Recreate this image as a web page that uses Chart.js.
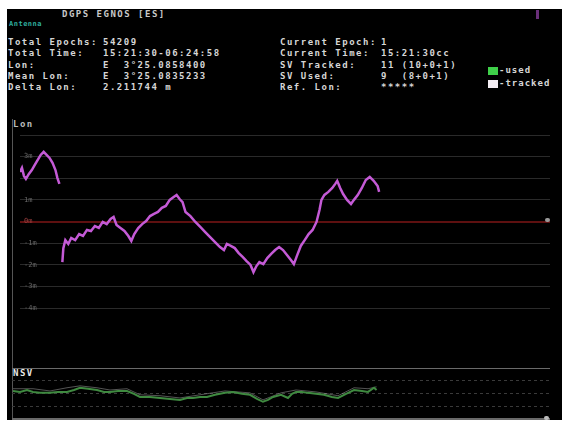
<!DOCTYPE html>
<html>
<head>
<meta charset="utf-8">
<script src="https://cdn.jsdelivr.net/npm/chart.js@4/dist/chart.umd.min.js"></script>
<style>
  html, body { margin: 0; padding: 0; background: #fff; }
  body { width: 562px; height: 423px; position: relative; overflow: hidden; }
  #screen { position: absolute; left: 7px; top: 9px; width: 555px; height: 411px; background: #000; }
  canvas { position: absolute; left: 0; top: 0; }
  .t { position: absolute; font-family: "DejaVu Sans Mono", monospace; font-weight: bold;
       font-size: 9px; line-height: 11px; letter-spacing: 1.5px; color: #d6d6d6; white-space: pre; }
  .sq { position: absolute; width: 10px; height: 8px; }
  .ln { position: absolute; background: #555; }
  .dot { position: absolute; width: 5px; height: 4px; border-radius: 2px; background: #9a9a9a; }
</style>
</head>
<body>
<div id="screen"></div>

<div class="t" style="left:9px;top:19px;color:#2fae9e;font-size:7px;letter-spacing:0.5px">Antenna</div>
<div class="t" style="left:62px;top:9px;color:#c8c8c8">DGPS EGNOS [ES]</div>
<div class="ln" style="left:536px;top:10px;width:3px;height:9px;background:#6a2f7a"></div>

<div class="t" style="left:8px;top:37px">Total Epochs:</div>
<div class="t" style="left:8px;top:48px">Total Time:</div>
<div class="t" style="left:8px;top:60px">Lon:</div>
<div class="t" style="left:8px;top:71px">Mean Lon:</div>
<div class="t" style="left:8px;top:82px">Delta Lon:</div>
<div class="t" style="left:103px;top:37px">54209</div>
<div class="t" style="left:103px;top:48px">15:21:30-06:24:58</div>
<div class="t" style="left:103px;top:60px">E  3°25.0858400</div>
<div class="t" style="left:103px;top:71px">E  3°25.0835233</div>
<div class="t" style="left:103px;top:82px">2.211744 m</div>

<div class="t" style="left:280px;top:37px">Current Epoch:</div>
<div class="t" style="left:280px;top:48px">Current Time:</div>
<div class="t" style="left:280px;top:60px">SV Tracked:</div>
<div class="t" style="left:280px;top:71px">SV Used:</div>
<div class="t" style="left:280px;top:82px">Ref. Lon:</div>
<div class="t" style="left:381px;top:37px">1</div>
<div class="t" style="left:381px;top:48px">15:21:30cc</div>
<div class="t" style="left:381px;top:60px">11 (10+0+1)</div>
<div class="t" style="left:381px;top:71px">9  (8+0+1)</div>
<div class="t" style="left:381px;top:82px">*****</div>

<div class="sq" style="left:488px;top:67px;background:#3fd04a"></div>
<div class="sq" style="left:488px;top:80px;background:#f4eef4"></div>
<div class="t" style="left:499px;top:65px;letter-spacing:1px">-used</div>
<div class="t" style="left:499px;top:78px;letter-spacing:1px">-tracked</div>

<div class="ln" style="left:12px;top:119px;width:1px;height:301px"></div>
<div class="t" style="left:13px;top:119px;color:#bbb">Lon</div>
<div class="t" style="left:13px;top:368px;color:#e8e8e8">NSV</div>

<canvas id="lonChart" width="562" height="423"></canvas>
<canvas id="svChart" width="562" height="423"></canvas>

<div class="dot" style="left:545px;top:218px"></div>
<div class="dot" style="left:544px;top:416px;background:#bbb"></div>

<script>
// longitude offset from mean, one unit per grid step
const lonEpochs = [0, 297, 595, 892, 1338, 1784, 2230, 2677, 3123, 3569, 4015, 4461, 4907, 5353, 5651, 5948,
  6200,
  6394, 6543, 6840, 7286, 7733, 8327, 8922, 9517, 10112, 10707, 11301, 11896, 12491, 13086, 13680, 14127,
  14573, 15168, 15763, 16357, 16803, 17249, 17844, 18439, 19034, 19628, 20223, 20818, 21413, 22007, 22602,
  23197, 23643, 24089, 24535, 24982, 25725, 26469, 27212, 27956, 28699, 29443, 30186, 30781, 31227, 31822,
  32417, 33012, 33606, 34201, 34796, 35242, 35688, 36134, 36729, 37324, 37918, 38513, 39108, 39703, 40298,
  40892, 41339, 41785, 42380, 42974, 43569, 44164, 44759, 45205, 45502, 45948, 46543, 47138, 47584, 47881,
  48327, 48773, 49368, 49963, 50409, 51004, 51599, 52193, 52788, 53383, 53978, 54209];
const lonOffsets = [2.29, 2.48, 2.11, 1.97, 2.20, 2.38, 2.62, 2.85, 3.08, 3.22, 3.08, 2.94, 2.71, 2.38, 2.01, 1.74,
  null,
  -1.88, -1.23, -0.86, -1.04, -0.76, -0.86, -0.58, -0.67, -0.39, -0.44, -0.21, -0.30, -0.02, -0.12, 0.12, 0.21,
  -0.16, -0.30, -0.44, -0.67, -0.90, -0.58, -0.30, -0.12, 0.02, 0.25, 0.35, 0.44, 0.63, 0.72, 1.00,
  1.13, 1.23, 1.04, 0.90, 0.44, 0.25, -0.02, -0.25, -0.49, -0.72, -0.95, -1.18, -1.32, -1.04, -1.13,
  -1.23, -1.46, -1.64, -1.83, -2.01, -2.34, -2.06, -1.88, -1.97, -1.69, -1.50, -1.32, -1.18, -1.32, -1.55,
  -1.78, -1.97, -1.60, -1.13, -0.86, -0.58, -0.39, -0.02, 0.53, 1.00, 1.23, 1.37, 1.55, 1.74, 1.88,
  1.55, 1.27, 1.00, 0.81, 1.00, 1.23, 1.55, 1.92, 2.06, 1.88, 1.64, 1.37];
const lonTickLabels = { 3: '3m', 1: '1m', 0: '0m', '-1': '-1m', '-2': '-2m', '-3': '-3m', '-4': '-4m' };

// satellites used / tracked
const usedEpochs = [150, 1190, 2230, 3123, 4164, 5651, 6840, 8180, 9220, 10112, 11300, 12640, 13680, 14570,
  15760, 17100, 18140, 19030, 20520, 22010, 23500, 24980, 26020, 26910, 27960, 28990, 30190, 31670, 32860,
  34200, 35390, 36430, 37320, 38070, 38810, 40000, 41040, 41640, 42230, 43120, 44010, 45200, 46390, 47580,
  48480, 49670, 50860, 52040, 52940, 53830, 54209];
const svUsed = [8.8, 8.5, 9.1, 8.5, 8.2, 8.2, 8.5, 8.5, 9.1, 9.8, 9.5, 9.1, 8.5, 8.5,
  8.8, 8.8, 7.9, 6.9, 6.9, 6.6, 6.3, 6.0, 6.6, 6.6, 6.9, 6.9, 7.6, 8.2, 8.5,
  7.9, 7.6, 6.3, 5.4, 6.0, 6.9, 7.6, 6.6, 7.9, 8.5, 8.5, 8.2, 7.9, 7.6, 6.9,
  6.6, 7.9, 9.1, 8.8, 8.5, 9.8, 9.1];
const trackedEpochs = [150, 3123, 5651, 8180, 10112, 12640, 14570, 17100, 19030, 22010, 24980, 27960,
  31670, 35390, 37320, 40000, 42230, 45200, 48480, 50860, 52940, 54209];
const svTracked = [9.5, 9.5, 8.8, 9.8, 10.4, 9.8, 9.1, 9.5, 7.6, 7.3, 6.6, 7.6,
  8.8, 8.2, 6.0, 8.2, 9.1, 8.5, 7.3, 9.8, 9.5, 10.1];

const pairs = (xs, ys) => xs.map((x, i) => ({ x: x, y: ys[i] }));

new Chart(document.getElementById('lonChart'), {
  type: 'line',
  data: {
    datasets: [{
      data: pairs(lonEpochs, lonOffsets),
      borderColor: '#c45ad6',
      borderWidth: 2.5,
      pointRadius: 0,
      tension: 0,
      spanGaps: false
    }]
  },
  options: {
    responsive: false,
    animation: false,
    layout: { padding: { left: 12, right: 12, top: 135, bottom: 115 } },
    plugins: { legend: { display: false }, tooltip: { enabled: false } },
    scales: {
      x: { type: 'linear', min: 0, max: 80000, display: false },
      y: {
        min: -4, max: 4,
        border: { display: false },
        grid: {
          drawTicks: false,
          color: (c) => c.tick && c.tick.value === 0 ? '#5e1010' : '#2a2a2a',
          lineWidth: (c) => c.tick && c.tick.value === 0 ? 2 : 1
        },
        ticks: {
          stepSize: 1,
          mirror: true,
          padding: 4,
          font: { family: 'DejaVu Sans Mono', size: 7 },
          color: (c) => c.tick && c.tick.value === 0 ? '#a04040' : '#6a6a6a',
          callback: (v) => lonTickLabels[v] || ''
        }
      }
    }
  }
});

new Chart(document.getElementById('svChart'), {
  type: 'line',
  data: {
    datasets: [{
      data: pairs(usedEpochs, svUsed),
      borderColor: '#3f8a40',
      borderWidth: 2,
      pointRadius: 0,
      tension: 0
    }, {
      data: pairs(trackedEpochs, svTracked),
      borderColor: 'rgba(210,210,210,0.4)',
      borderWidth: 1,
      pointRadius: 0,
      tension: 0
    }]
  },
  options: {
    responsive: false,
    animation: false,
    layout: { padding: { left: 12, right: 12, top: 368, bottom: 4 } },
    plugins: { legend: { display: false }, tooltip: { enabled: false } },
    scales: {
      x: { type: 'linear', min: 0, max: 80000, display: false },
      y: {
        min: 0, max: 16,
        border: { display: false, dash: (c) => (c.tick && (c.tick.value === 0 || c.tick.value === 16)) ? [] : [3, 3] },
        grid: {
          drawTicks: false,
          color: (c) => c.tick && (c.tick.value === 0 || c.tick.value === 16) ? '#6a6a6a' : '#3a3a3a',
          lineWidth: (c) => c.tick && c.tick.value === 0 ? 2 : 1
        },
        ticks: { stepSize: 4, display: false }
      }
    }
  }
});
</script>
</body>
</html>
